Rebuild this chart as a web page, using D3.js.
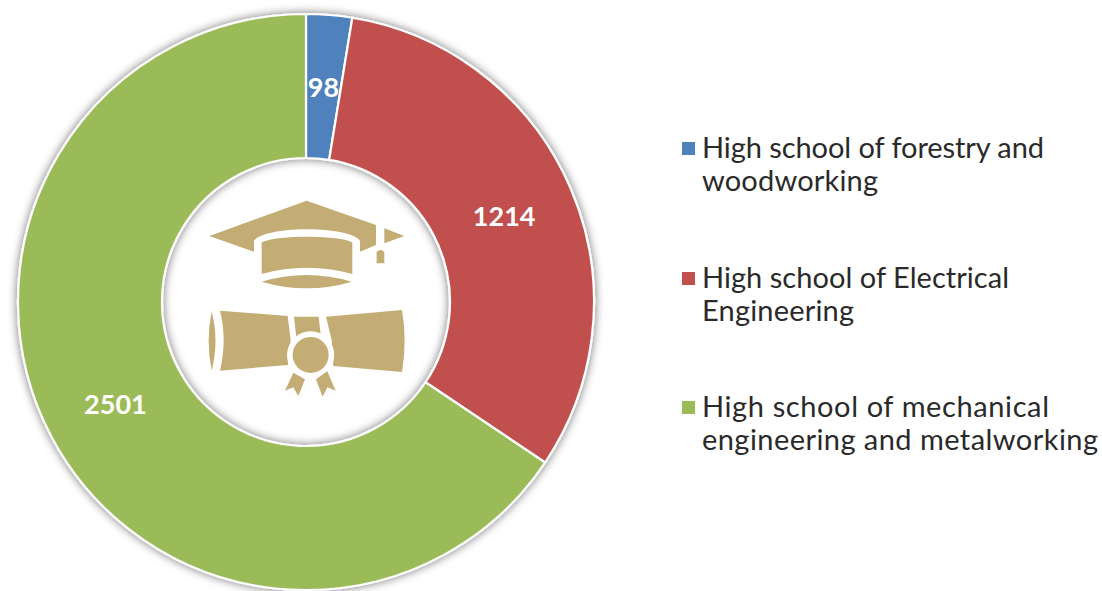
<!DOCTYPE html>
<html>
<head>
<meta charset="utf-8">
<script src="https://cdn.jsdelivr.net/npm/d3@7"></script>
<style>
body { margin: 0; background: #fff; }
svg { display: block; }
.value { font-family: Lato, "Open Sans", sans-serif; font-weight: 700; font-size: 27px; fill: #fff; text-anchor: middle; }
.legend { font-family: Lato, "Open Sans", sans-serif; font-size: 29px; fill: #2a2a2a; }
</style>
</head>
<body>
<div id="chart"></div>
<script>
// chart data
var categories = [
    ["High school of forestry and", "woodworking"],
    ["High school of Electrical", "Engineering"],
    ["High school of mechanical", "engineering and metalworking"]
];
var values = [98, 1214, 2501];
var colors = ["#4f81bd", "#c0504d", "#9bbb59"];

var svgWidth = 1102;
var svgHeight = 591;
var center = { x: 306, y: 302 };
var outerRadius = 288;
var innerRadius = 144;

var svg = d3.select("#chart")
    .append("svg")
    .attr("width", svgWidth)
    .attr("height", svgHeight);

// soft shadow round the ring
var filter = svg.append("defs").append("filter")
    .attr("id", "ringShadow")
    .attr("x", "-10%").attr("y", "-10%")
    .attr("width", "120%").attr("height", "120%");
filter.append("feDropShadow")
    .attr("dx", 0).attr("dy", 0)
    .attr("stdDeviation", 5)
    .attr("flood-color", "#000")
    .attr("flood-opacity", 0.55);

var pie = d3.pie().sort(null)(values);
var arc = d3.arc().innerRadius(innerRadius).outerRadius(outerRadius);

var chartGroup = svg.append("g")
    .attr("transform", `translate(${center.x}, ${center.y})`);

chartGroup.append("g")
    .attr("filter", "url(#ringShadow)")
    .selectAll("path")
    .data(pie)
    .enter()
    .append("path")
    .attr("d", arc)
    .attr("fill", (d, i) => colors[i])
    .attr("stroke", "#fff")
    .attr("stroke-width", 2.2);

chartGroup.selectAll("text.value")
    .data(pie)
    .enter()
    .append("text")
    .attr("class", "value")
    .attr("x", d => arc.centroid(d)[0])
    .attr("y", d => arc.centroid(d)[1] + 10)
    .text(d => d.value);

// legend, text lines wrap as in the picture
var legendTop = [157, 287, 416];
// fallback font is narrower than the original, stretch each line to its width
var lineWidths = [[342, 176], [307, 152], [347, 396]];

var legend = svg.selectAll("g.legendItem")
    .data(categories)
    .enter()
    .append("g")
    .attr("class", "legendItem")
    .attr("transform", (d, i) => `translate(682, ${legendTop[i]})`);

legend.append("rect")
    .attr("x", 0)
    .attr("y", -15)
    .attr("width", 13)
    .attr("height", 13)
    .attr("fill", (d, i) => colors[i]);

categories.forEach(function(lines, i) {
    d3.select(legend.nodes()[i]).selectAll("text")
        .data(lines)
        .enter()
        .append("text")
        .attr("class", "legend")
        .attr("x", 20)
        .attr("y", (d, j) => j * 32.5 + 1)
        .attr("textLength", (d, j) => lineWidths[i][j])
        .text(d => d);
});

// graduation cap and diploma icon, drawn in a 3x grid
var icon = svg.append("g")
    .attr("transform", "translate(190, 180) scale(0.3333)")
    .attr("fill", "#c4ac75");

var iconPaths = [
    "M58,168 L350,62 L558,135 L558,195 L510,215 L510,182 C490,155 400,148 350,148 C300,148 215,155 192,182 L192,215 Z",
    "M583,145 L643,168 L583,190 Z",
    "M560,216 Q571,204 583,216 L583,250 L560,250 Z",
    "M215,187 C240,174 300,170 350,170 C400,170 465,174 487,187 L487,282 Q350,245 215,282 Z",
    "M215,305 Q350,265 485,305 Q350,345 215,305 Z",
    "M65,395 Q88,480 65,572 Q47,480 65,395 Z",
    "M90,392 L293,408 L302,480 L294,555 L90,572 Q112,480 90,392 Z",
    "M312,410 L386,410 L394,480 L320,480 Z",
    "M408,410 L636,390 Q652,480 636,576 L430,558 L425,480 Z"
];
icon.selectAll("path.part")
    .data(iconPaths)
    .enter()
    .append("path")
    .attr("class", "part")
    .attr("d", d => d);

// white ring keeps the seal apart from the scroll
icon.append("circle")
    .attr("cx", 362)
    .attr("cy", 525)
    .attr("r", 71)
    .attr("fill", "#fff");
icon.append("circle")
    .attr("cx", 362)
    .attr("cy", 525)
    .attr("r", 54);

var ribbonPaths = [
    "M310,578 L345,598 L325,648 L310,622 L285,632 Z",
    "M412,574 L437,632 L412,622 L398,650 L378,598 Z"
];
icon.selectAll("path.ribbon")
    .data(ribbonPaths)
    .enter()
    .append("path")
    .attr("class", "ribbon")
    .attr("d", d => d);
</script>
</body>
</html>
